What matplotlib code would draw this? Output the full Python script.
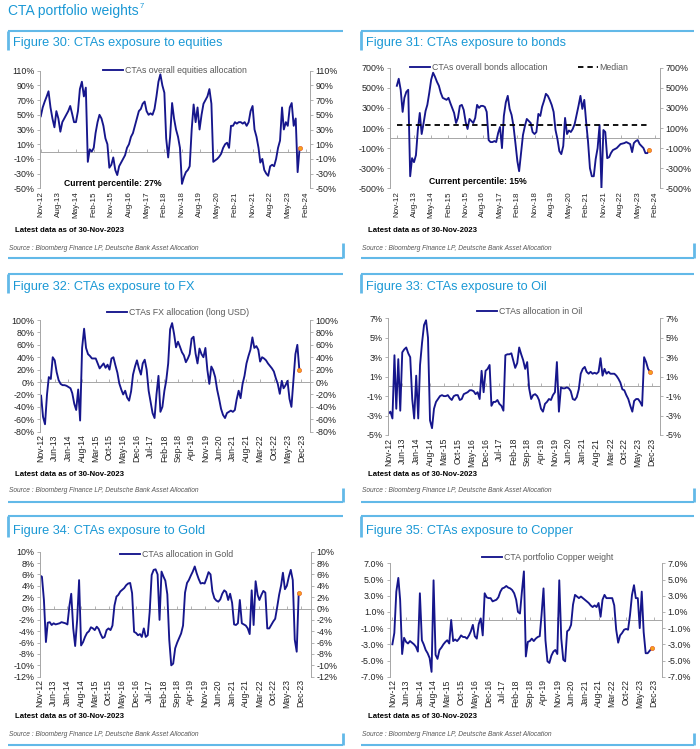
import matplotlib
matplotlib.use('Agg')
from matplotlib import pyplot as plt
from matplotlib.lines import Line2D
from matplotlib.ticker import FuncFormatter
import matplotlib.dates as mdates
import numpy as np
import pandas as pd

plt.rcParams['font.family'] = ['Liberation Sans', 'DejaVu Sans']

# monthly observations, Nov-12 .. Nov-23
months = pd.date_range('2012-11-01', '2023-11-01', freq='MS')
ticks_9m = pd.date_range('2012-11-01', periods=16, freq='9MS')
ticks_7m = pd.date_range('2012-11-01', periods=20, freq='7MS')

equities = [48, 60, 68, 75, 82, 60, 45, 33, 55, 45,
            27, 40, 45, 50, 55, 62, 52, 40, 40, 55,
            85, 95, 75, 87, -14, 3, 0, 5, 25, 40,
            50, 45, 35, 18, 10, -22, -18, -8, -25, -32,
            -20, -15, -10, -5, 5, 10, 20, 25, 35, 45,
            55, 58, 65, 68, 55, 50, 52, 50, 58, 75,
            95, 105, 90, 80, 18, -8, 20, 66, 45, 30,
            20, 5, -44, -35, -28, -25, -20, 30, 64, 40,
            60, 30, 50, 65, 70, 75, 85, 65, -14, -12,
            -10, -7, -3, 5, 10, 12, 5, 35, 35, 40,
            38, 40, 40, 38, 40, 35, 40, 55, 62, 30,
            20, 5, -15, -10, -25, -30, -33, -20, -18, -20,
            -10, 5, 15, 60, 30, 40, 35, 60, 66, 35,
            45, -28, 5]

bonds = [520, 590, 480, 260, 400, 460, 480, -380, -200, -240,
         -170, 80, 250, 40, 150, 270, 330, 450, 580, 650,
         610, 560, 520, 450, 400, 390, 380, 400, 350, 300,
         250, 150, 200, 320, 330, 280, 160, 90, 190, 170,
         150, 200, 330, 300, 320, 320, 310, 260, -20, -40,
         -40, -30, -40, 50, 110, -100, 220, 355, 420, 290,
         230, 120, -50, -230, -330, -150, 30, 120, 190, 170,
         150, 60, 40, 60, 240, 220, 310, 370, 440, 420,
         380, 330, 260, 80, -10, -130, -160, -80, 200, 40,
         75, 60, 90, 140, 230, 320, 420, 290, 380, 150,
         -30, -300, -380, -380, -210, -100, 130, -500, 80, 60,
         -200, -190, -150, -120, -110, -100, -80, -60, -55, -50,
         -40, -50, -60, -140, -50, -30, -20, -60, -80, -100,
         -150, -150, -115]
bonds_median = 125

fx = [-22, -56, -68, -20, 8, 5, 40, 35, 16, 3,
      -3, -5, -5, -6, -8, -10, -18, -35, -45, -12,
      -62, 55, 86, 55, 45, 42, 38, 38, 38, 30,
      22, 26, 30, 23, 28, 20, 38, 40, 27, 15,
      -2, -12, -20, -14, -25, -30, -15, 12, 25, 35,
      22, 12, 30, 36, 20, -14, -32, -50, -58, -20,
      10, -48, -40, -14, 2, 30, 85, 95, 78, 56,
      65, 57, 48, 43, 32, 38, 45, 70, 73, 46,
      30, 54, 45, 40, 55, 20, -3, 25, 19, 8,
      -12, -27, -43, -53, -58, -50, -48, -46, -48, -45,
      -28, -14, -26, -3, 10, 30, 42, 52, 72, 55,
      58, 52, 33, 40, 38, 35, 30, 26, 22, 17,
      6, -3, -19, 2, -10, -5, 2, -27, -40, 3,
      45, 60, 20]

oil = [-2.8, -2.6, -3.3, 3.2, -2.3, 2.8, -2.5, 3.5, 3.8, 4.0,
       3.4, 3.0, -1.3, -3.3, 1.1, -3.3, 2.2, 4.5, 6.3, 6.8,
       5.0, -3.5, -4.3, -2.3, -1.6, -1.3, -1.0, -0.9, -1.0, -1.0,
       -0.9, -1.2, -1.4, -1.0, -0.9, -0.9, -1.4, -1.3, -0.8, -0.7,
       -0.6, -0.4, -0.4, -0.5, -0.8, -0.6, -1.3, 1.6, -0.6, 1.6,
       1.8, 2.2, -2.0, -1.6, -1.6, -1.4, -1.8, -2.0, -2.5, 3.2,
       3.3, 3.3, 3.4, 2.6, 1.9, 2.4, 4.0, 3.3, 2.7, 1.8,
       2.5, -0.2, -1.3, -0.9, -0.8, -1.0, -1.4, -2.3, -2.6, -1.8,
       -1.6, -1.3, -1.4, -0.9, -0.6, 2.5, -2.6, -0.1, -0.2, -0.2,
       -0.1, -0.2, -0.5, -1.3, -1.4, -1.1, -0.3, 1.3, 1.8, 2.0,
       1.5, 1.3, 1.5, 1.3, 1.4, 1.3, 1.5, 2.9, 1.1, 1.8,
       1.3, 1.5, 1.3, 1.3, 1.3, 1.1, 0.8, 0.4, -0.3, -0.4,
       -0.9, -1.3, -2.0, -2.6, -1.5, -1.3, -1.3, -1.6, -2.0, 3.0,
       2.5, 1.8, 1.5]

gold = [5.8, 5.6, 1.5, -5.9, -2.5, -2.4, -2.9, -2.6, -2.8, -2.7,
        -2.6, -2.4, -2.5, -2.6, -2.8, 0.5, 2.6, -3.5, -6.6, -2.0,
        5.0, -6.5, -5.9, -5.0, -4.3, -4.0, -3.3, -3.5, -3.8, -3.2,
        -3.6, -4.5, -5.2, -5.0, -3.8, -3.5, -3.8, -3.0, 0.5, 2.1,
        2.4, 3.0, 3.3, 3.6, 4.1, 4.4, 4.5, 2.7, -4.1, -4.3,
        -4.7, -4.5, -5.0, -3.5, -5.0, -4.7, -0.6, 5.9, 6.8, 6.9,
        6.0, -2.0, 6.5, 5.6, 4.9, 2.5, -5.5, -10.0, -9.7, -7.0,
        -6.0, -5.2, -4.4, -3.0, 2.8, 4.5, 5.0, 5.8, 6.5, 7.4,
        6.2, 5.2, 4.4, 4.5, 4.4, 5.3, 6.4, 6.0, 3.0, 1.8,
        1.4, 1.2, 1.6, 2.6, 3.2, 2.9, 1.5, 2.6, 1.0, -2.8,
        -2.9, -2.6, 1.5, -2.6, -2.8, -3.0, -3.5, -4.5, 3.2, -2.9,
        4.8, 2.4, 1.5, 2.4, 3.1, 2.8, -3.5, -3.5, -2.9, -2.3,
        -1.8, 0.2, 2.4, 4.1, 6.3, 3.4, 4.0, 5.6, 6.8, 5.0,
        -5.5, -7.6, 2.7]

copper = [-3.0, -1.6, 3.5, 5.2, 2.5, -4.2, -2.2, -2.7, -2.9, -2.6,
          -2.8, -3.0, -3.3, -3.9, 3.3, -2.5, -3.0, -3.7, -4.1, -4.7,
          -6.4, 4.9, -4.3, -4.8, -3.7, -3.4, -3.0, -2.7, -2.5, -2.9,
          0.0, -2.6, -2.4, -2.6, -2.3, -1.9, -2.1, -2.1, -2.3, -1.9,
          -1.4, -0.6, -2.0, -2.3, -0.5, 0.2, -1.9, 3.3, 2.8, 2.7,
          2.7, 2.3, 2.4, 2.5, 2.8, 3.5, 3.9, 4.0, 4.2, 4.0,
          3.9, 3.7, 3.3, 2.5, 1.0, 0.8, 3.5, 6.0, -4.5, -2.7,
          -2.6, -2.3, -2.6, -2.3, -2.1, -2.0, 0.6, 3.9, -2.5, -5.1,
          -5.3, -4.4, -3.9, -3.7, -4.2, 4.9, -2.3, -4.9, -5.1, -1.4,
          -1.2, -0.6, 1.9, 3.1, 2.9, 2.7, 2.9, 2.7, 2.5, 2.3,
          2.1, 1.8, 1.6, 1.8, 1.6, 2.1, 0.4, 2.5, 3.1, 2.7,
          2.7, 2.7, 2.7, 1.8, -1.2, -2.8, -1.9, -1.6, -1.2, -1.1,
          -1.2, 0.6, 3.1, 4.3, 2.7, 2.7, -1.0, 3.5, -1.5, -4.1,
          -4.1, -3.8, -3.5]

x = mdates.date2num(months)

W, H = 700, 749
fig = plt.figure(figsize=(W / 100, H / 100), dpi=100)

NAVY = '#16168C'
GREY = '#A6A6A6'
BLUE_T = '#1A98D5'
BLUE_L = '#62B9E8'
SRC = 'Source : Bloomberg Finance LP, Deutsche Bank Asset Allocation'


def fline(xs, ys, lw=1.5):
    fig.add_artist(Line2D([v / W for v in xs], [1 - v / H for v in ys],
                          transform=fig.transFigure, color=BLUE_L, lw=lw,
                          solid_capstyle='butt'))


def ftext(px, py, s, **kw):
    fig.text(px / W, 1 - py / H, s, va='center', ha=kw.pop('ha', 'left'), **kw)


ftext(8, 11, 'CTA portfolio weights', fontsize=10, color=BLUE_T)
ftext(140, 7, '7', fontsize=5.5, color=BLUE_T)

cols = [(8, 343), (361, 694)]
rows = [dict(top=31, bar=50, title=43, latest=230, source=248, bottom=258, vbar=243),
        dict(top=274, bar=293, title=287, latest=474, source=491, bottom=502, vbar=488),
        dict(top=516, bar=537, title=531, latest=717, source=734, bottom=745, vbar=733)]


def panel(col, row, title, rect, values, label, ylim, ystep, fmt, xlim, ticks,
          leg_pos, xfs, percentile=None, median=None):
    cx0, cx1 = cols[col]
    r = rows[row]
    fline([cx0, cx1], [r['top'], r['top']])
    fline([cx0, cx0], [r['top'], r['bar']], lw=2)
    fline([cx0, cx1], [r['bottom'], r['bottom']])
    fline([cx1, cx1], [r['vbar'], r['bottom']], lw=2)
    ftext(cx0 + 5, r['title'], title, fontsize=9.2, color=BLUE_T)
    ftext(cx0 + 7, r['latest'], 'Latest data as of 30-Nov-2023', fontsize=5.6,
          fontweight='bold', color='black')
    ftext(cx0 + 1, r['source'], SRC, fontsize=4.8, style='italic', color='#555555')

    x0, y0, x1, y1 = rect
    ax = fig.add_axes([x0 / W, 1 - y1 / H, (x1 - x0) / W, (y1 - y0) / H])
    ax.plot(x, values, color=NAVY, lw=1.35, label=label)
    if median is not None:
        ax.plot(x, [median] * len(x), color='black', lw=1.3, ls=(0, (3, 2.2)),
                label='Median')
    ax.plot(x[-1], values[-1], 'o', ms=3, mfc='#F7A21B', mec='#E8612C', mew=0.5)

    ax.set_ylim(*ylim)
    ax.set_yticks(np.arange(ylim[0], ylim[1] + ystep / 2, ystep))
    ax.yaxis.set_major_formatter(FuncFormatter(lambda v, p: fmt % v))
    ax.set_xlim(mdates.datestr2num(xlim))
    tnum = mdates.date2num(ticks)
    ax.set_xticks(tnum)
    ax.set_xticklabels([t.strftime('%b-%y') for t in ticks], rotation=90,
                       fontsize=xfs, color='#222222')
    ax.tick_params(axis='x', length=0, pad=2)
    ax.tick_params(axis='y', direction='out', length=2.5, width=0.6, color=GREY,
                   labelsize=6.4, labelcolor='#222222', right=True,
                   labelright=True, pad=1.5)
    for s in ['top', 'bottom']:
        ax.spines[s].set_visible(False)
    for s in ['left', 'right']:
        ax.spines[s].set_color(GREY)
        ax.spines[s].set_linewidth(0.7)
    ax.patch.set_alpha(0)

    frac = -ylim[0] / (ylim[1] - ylim[0])
    sec = ax.secondary_xaxis(frac)
    sec.set_xticks(tnum)
    sec.tick_params(direction='in' if frac < 0.5 else 'out', length=2.5, width=0.6,
                    color=GREY, labelbottom=False, labeltop=False)
    for sp in sec.spines.values():
        sp.set_color(GREY)
        sp.set_linewidth(0.7)

    ax.legend(loc='center', bbox_to_anchor=leg_pos, frameon=False, fontsize=6.3,
              labelcolor='#595959', handlelength=2.3, handletextpad=0.2,
              ncol=2 if median is not None else 1, columnspacing=3.5,
              borderpad=0, borderaxespad=0)
    if percentile:
        ftext(percentile[0], percentile[1], percentile[2], fontsize=6.2,
              fontweight='bold', color='black')
    return ax


panel(0, 0, 'Figure 30: CTAs exposure to equities', (40, 70.7, 310, 188.3),
      equities, 'CTAs overall equities allocation', (-50, 110), 20, '%d%%',
      ('2012-10-20', '2024-04-10'), ticks_9m, (0.5, 1.0), 5.8,
      percentile=(64, 183, 'Current percentile: 27%'))
panel(1, 0, 'Figure 31: CTAs exposure to bonds', (390, 67.7, 660, 188.3),
      bonds, 'CTAs overall bonds allocation', (-500, 700), 200, '%d%%',
      ('2012-07-15', '2024-04-20'), ticks_9m, (0.478, 1.0), 5.8,
      percentile=(429, 182, 'Current percentile: 15%'), median=bonds_median)
panel(0, 1, 'Figure 32: CTAs exposure to FX', (40, 320, 310, 431.7),
      fx, 'CTAs FX allocation (long USD)', (-80, 100), 20, '%d%%',
      ('2012-10-15', '2024-04-15'), ticks_7m, (0.51, 1.07), 6.2)
panel(1, 1, 'Figure 33: CTAs exposure to Oil', (388, 318.3, 660, 435),
      oil, 'CTAs allocation in Oil', (-5, 7), 2, '%d%%',
      ('2012-10-25', '2024-04-01'), ticks_7m, (0.52, 1.054), 6.2)
panel(0, 2, 'Figure 34: CTAs exposure to Gold', (40, 551.7, 311, 676.7),
      gold, 'CTAs allocation in Gold', (-12, 10), 2, '%d%%',
      ('2012-11-01', '2024-05-10'), ticks_7m, (0.505, 0.974), 6.2)
panel(1, 2, 'Figure 35: CTAs exposure to Copper', (390, 563.3, 662, 676.7),
      copper, 'CTA portfolio Copper weight', (-7, 7), 2, '%.1f%%',
      ('2012-09-25', '2024-04-10'), ticks_7m, (0.58, 1.055), 6.2)

fig.savefig('out.png', dpi=100)
